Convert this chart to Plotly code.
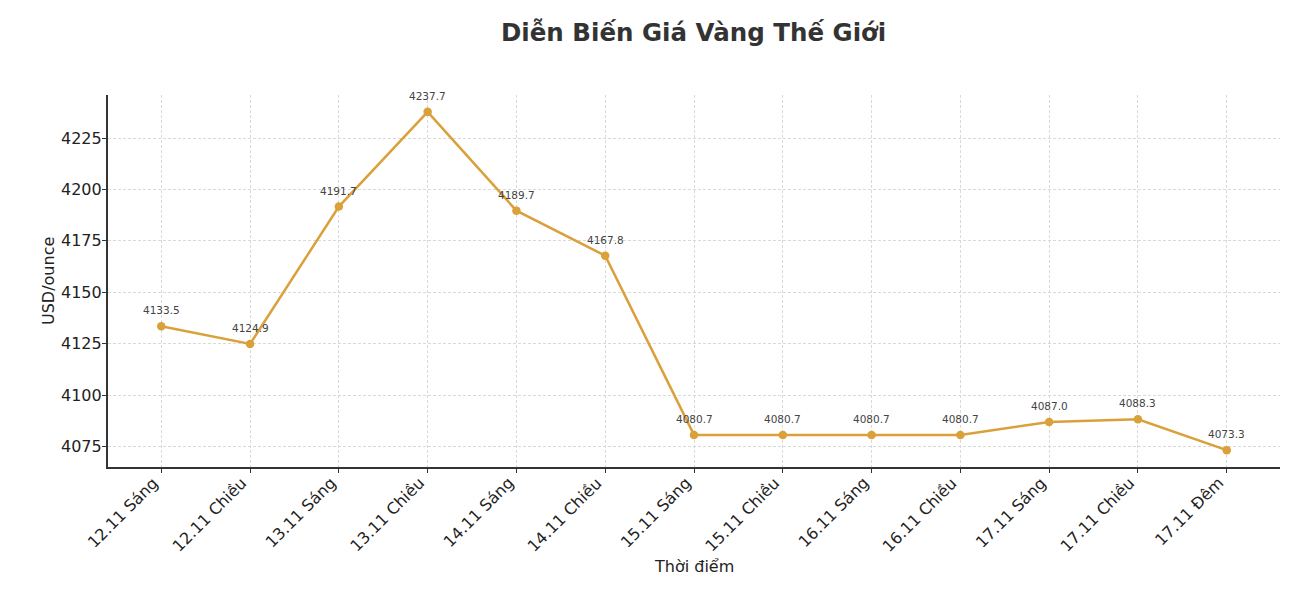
import plotly.graph_objects as go

# Dữ liệu giá vàng
thoi_diem = ["12.11 Sáng", "12.11 Chiều", "13.11 Sáng", "13.11 Chiều", "14.11 Sáng",
             "14.11 Chiều", "15.11 Sáng", "15.11 Chiều", "16.11 Sáng", "16.11 Chiều",
             "17.11 Sáng", "17.11 Chiều", "17.11 Đêm"]
gia_vang = [4133.5, 4124.9, 4191.7, 4237.7, 4189.7, 4167.8, 4080.7,
            4080.7, 4080.7, 4080.7, 4087.0, 4088.3, 4073.3]
y_ticks = [4075, 4100, 4125, 4150, 4175, 4200, 4225]

FONT = "DejaVu Sans"
GOLD = "#DAA03A"
TXT = "#222222"

x_idx = list(range(len(thoi_diem)))

fig = go.Figure()
fig.add_trace(go.Scatter(
    x=x_idx,
    y=gia_vang,
    mode="lines+markers",
    line=dict(color=GOLD, width=2.5),
    marker=dict(color=GOLD, size=8.5),
    showlegend=False))

annots = []
# nhãn giá trên mỗi điểm
for i, v in zip(x_idx, gia_vang):
    annots.append(dict(x=i, y=v, xref="x", yref="y", text=f"{v:.1f}",
                       showarrow=False, yanchor="middle", yshift=16,
                       font=dict(family=FONT, size=10.5, color="#444444")))
# nhãn trục x xoay 45 độ (kiểu matplotlib ha="right")
for i, lab in zip(x_idx, thoi_diem):
    annots.append(dict(x=i, y=0, xref="x", yref="paper", text=lab,
                       showarrow=False, textangle=-45, xanchor="right", yanchor="top",
                       xshift=2, yshift=-5, borderpad=0,
                       font=dict(family=FONT, size=16, color=TXT)))
# nhãn trục y đặt sát trục như matplotlib
for t in y_ticks:
    annots.append(dict(x=0, y=t, xref="paper", yref="y", text=str(t),
                       showarrow=False, xanchor="right", yanchor="middle",
                       xshift=-5, borderpad=0,
                       font=dict(family=FONT, size=16, color=TXT)))
annots.append(dict(x=0.5, y=0, xref="paper", yref="paper", text="Thời điểm",
                   showarrow=False, yanchor="middle", yshift=-99,
                   font=dict(family=FONT, size=16, color=TXT)))
annots.append(dict(x=0, y=0.5, xref="paper", yref="paper", text="USD/ounce",
                   showarrow=False, textangle=-90, xanchor="center", xshift=-60,
                   font=dict(family=FONT, size=16, color=TXT)))

fig.update_layout(
    width=1284, height=590,
    paper_bgcolor="white", plot_bgcolor="white",
    margin=dict(l=100, r=12, t=87, b=131),
    title=dict(text="<b>Diễn Biến Giá Vàng Thế Giới</b>",
               x=0.534, xanchor="center", y=0.958, yanchor="middle",
               font=dict(family=FONT, size=24.5, color="#333333")),
    font=dict(family=FONT, color=TXT),
    annotations=annots,
    xaxis=dict(
        range=[-0.6, 12.6], automargin=False,
        tickmode="array", tickvals=x_idx, showticklabels=False,
        ticks="outside", ticklen=4, tickcolor="#333333",
        showline=True, linecolor="#333333", linewidth=1.5,
        showgrid=True, gridcolor="#d9d9d9", griddash="3px,2px", gridwidth=1,
        zeroline=False),
    yaxis=dict(
        range=[4065.1, 4245.9], automargin=False,
        tickmode="array", tickvals=y_ticks, showticklabels=False,
        ticks="outside", ticklen=4, tickcolor="#333333",
        showline=True, linecolor="#333333", linewidth=1.5,
        showgrid=True, gridcolor="#d9d9d9", griddash="3px,2px", gridwidth=1,
        zeroline=False),
)

fig.write_html("out.html")
